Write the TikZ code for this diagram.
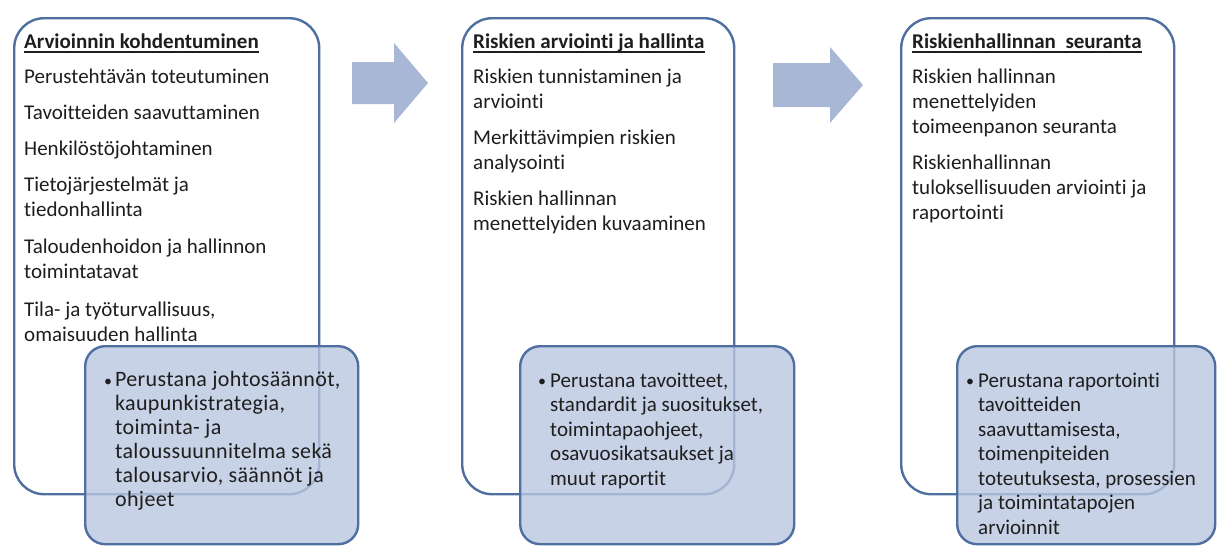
\documentclass[tikz,border=0pt]{standalone}
\usepackage{fontspec}
\setmainfont{Carlito}[Ligatures={NoCommon,NoContextual}]
\definecolor{edge}{HTML}{4F6FA0}
\definecolor{lowfill}{HTML}{BAC7E0}
\definecolor{arrowfill}{HTML}{A9B7D6}
\definecolor{txt}{HTML}{1E1E1E}
\begin{document}
\begin{tikzpicture}[x=1pt,y=-1pt,
  bigbox/.style={draw=edge,line width=2.4pt,fill=white,rounded corners=30pt,anchor=north west,inner sep=0pt},
  lowbox/.style={draw=edge,line width=2.4pt,fill=lowfill,fill opacity=0.8,rounded corners=20pt,anchor=north west,inner sep=0pt},
  blockarrow/.style={fill=arrowfill,draw=none},
  ttl/.style={anchor=base west,inner sep=0pt,text=txt,font=\fontsize{21}{25}\selectfont\bfseries},
  itm/.style={anchor=base west,inner sep=0pt,text=txt,align=left,font=\fontsize{21}{25}\selectfont},
  low/.style={anchor=base west,inner sep=0pt,text=txt,align=left,font=\fontsize{21}{24.5}\selectfont},
  lowwide/.style={anchor=base west,inner sep=0pt,text=txt,align=left,font=\fontsize{22}{24}\selectfont\addfontfeature{LetterSpace=1.5}},
  bul/.style={anchor=base west,inner sep=0pt,text=txt,font=\fontsize{16}{20}\selectfont},
  uline/.style={draw=txt,line width=1.3pt}]
\useasboundingbox (0,0) rectangle (1217,546);
\clip (0,0) rectangle (1217,546);

% big boxes
\node[bigbox,minimum width=305pt,minimum height=476pt] (b1) at (13,17) {};
\node[bigbox,minimum width=272pt,minimum height=476pt] (b2) at (461,17) {};
\node[bigbox,minimum width=273pt,minimum height=476pt] (b3) at (900,17) {};

% block arrows
\fill[blockarrow] (352,62) -- (394,62) -- (394,43) -- (428,83) -- (394,123) -- (394,104) -- (352,104) -- cycle;
\fill[blockarrow] (773,63) -- (830,63) -- (830,47) -- (863,85) -- (830,123) -- (830,107) -- (773,107) -- cycle;

% box 1 texts (multi-line nodes are placed by their last baseline)
\node[ttl] (t1) at (24,48) {Arvioinnin kohdentuminen};
\draw[uline] ([yshift=-4pt]t1.base west) -- ([yshift=-4pt]t1.base east);
\node[itm] (a1) at (24,83) {Perustehtävän toteutuminen};
\node[itm] (a2) at (24,119) {Tavoitteiden saavuttaminen};
\node[itm] (a3) at (24,155) {Henkilöstöjohtaminen};
\node[itm] (a4) at (24,216) {Tietojärjestelmät ja\\tiedonhallinta};
\node[itm] (a5) at (24,278) {Taloudenhoidon ja hallinnon\\toimintatavat};
\node[itm] (a6) at (24,341) {Tila- ja työturvallisuus,\\omaisuuden hallinta};

% box 2 texts
\node[ttl] (t2) at (473,48) {Riskien arviointi ja hallinta};
\draw[uline] ([yshift=-4pt]t2.base west) -- ([yshift=-4pt]t2.base east);
\node[itm] (r1) at (473,108) {Riskien tunnistaminen ja\\arviointi};
\node[itm] (r2) at (473,169) {Merkittävimpien riskien\\analysointi};
\node[itm] (r3) at (473,230) {Riskien hallinnan\\menettelyiden kuvaaminen};

% box 3 texts
\node[ttl] (t3) at (912,48) {Riskienhallinnan\ \ seuranta};
\draw[uline] ([yshift=-4pt]t3.base west) -- ([yshift=-4pt]t3.base east);
\node[itm] (s1) at (912,133) {Riskien hallinnan\\menettelyiden\\toimeenpanon seuranta};
\node[itm] (s2) at (912,219) {Riskienhallinnan\\tuloksellisuuden arviointi ja\\raportointi};

% lower boxes
\node[lowbox,minimum width=273pt,minimum height=198pt] (l1) at (84,345) {};
\node[lowbox,minimum width=274pt,minimum height=198pt] (l2) at (519,345) {};
\node[lowbox,minimum width=258pt,minimum height=198pt] (l3) at (956,345) {};

\node[bul] (d1) at (104,386) {•};
\node[lowwide] (p1) at (115,506) {Perustana johtosäännöt,\\kaupunkistrategia,\\toiminta- ja\\taloussuunnitelma sekä\\talousarvio, säännöt ja\\ohjeet};
\node[bul] (d2) at (538,386) {•};
\node[low] (p2) at (550,485) {Perustana tavoitteet,\\standardit ja suositukset,\\toimintapaohjeet,\\osavuosikatsaukset ja\\muut raportit};
\node[bul] (d3) at (966,386) {•};
\node[low] (p3) at (978,534) {Perustana raportointi\\tavoitteiden\\saavuttamisesta,\\toimenpiteiden\\toteutuksesta, prosessien\\ja toimintatapojen\\arvioinnit};
\end{tikzpicture}
\end{document}
